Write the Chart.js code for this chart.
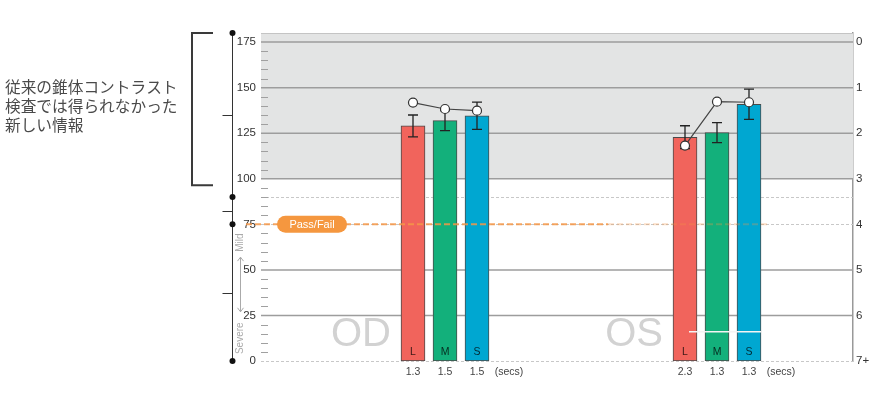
<!DOCTYPE html>
<html>
<head>
<meta charset="utf-8">
<script src="https://cdn.jsdelivr.net/npm/chart.js@4"></script>
<style>
body { margin: 0; background: #fff; }
#wrap { width: 885px; height: 420px; }
</style>
</head>
<body>
<div id="wrap"><canvas id="myChart"></canvas></div>
<script>
// values
const eyes = ['OD', 'OS'];
const cones = ['L', 'M', 'S'];
const odScores = [129.0, 131.9, 134.6];
const osScores = [122.8, 125.3, 140.9];
const odErrors = [6.0, 5.5, 7.5];
const osErrors = [6.3, 5.5, 8.3];
const odPrevious = [141.8, 138.3, 137.4];
const osPrevious = [118.2, 142.3, 142.0];
const odSecs = ['1.3', '1.5', '1.5'];
const osSecs = ['2.3', '1.3', '1.3'];
const leftTicks = [0, 25, 50, 75, 100, 125, 150, 175];
const rightTickLabels = ['7+', '6', '5', '4', '3', '2', '1', '0'];
const passFail = 75;
const sideText = ['従来の錐体コントラスト', '検査では得られなかった', '新しい情報'];

const coneColors = ['#f1645c', '#13b07b', '#00a7d1'];
const FONT = 'Liberation Sans, Arial, sans-serif';

// slot layout on the category axis
const SLOTS = 37;
const groupStart = [9, 26];
const scores = [odScores, osScores];
const errors = [odErrors, osErrors];
const previous = [odPrevious, osPrevious];
const secs = [odSecs, osSecs];

const labels = Array(SLOTS).fill('');
const barData = Array(SLOTS).fill(null);
const barColors = Array(SLOTS).fill('transparent');
const barErr = Array(SLOTS).fill(null);
const barCone = Array(SLOTS).fill('');
const prevLines = [Array(SLOTS).fill(null), Array(SLOTS).fill(null)];

eyes.forEach((eye, g) => {
	cones.forEach((c, k) => {
		const i = groupStart[g] + k * 2;
		labels[i] = secs[g][k];
		barData[i] = scores[g][k];
		barColors[i] = coneColors[k];
		barErr[i] = errors[g][k];
		barCone[i] = c;
		prevLines[g][i] = previous[g][k];
	});
	labels[groupStart[g] + 6] = '(secs)';
});

const decor = {
	id: 'decor',
	beforeDatasetsDraw(chart) {
		const {ctx, chartArea: a, scales: {y}} = chart;
		ctx.save();
		// grey band above 100
		ctx.fillStyle = '#e3e4e4';
		ctx.fillRect(a.left, a.top, a.right - a.left, y.getPixelForValue(100) - a.top);
		ctx.strokeStyle = '#c4c4c4';
		ctx.lineWidth = 1;
		ctx.beginPath(); ctx.moveTo(a.left, a.top + 0.5); ctx.lineTo(a.right, a.top + 0.5); ctx.stroke();

		// solid grid lines
		ctx.strokeStyle = '#9d9d9d';
		ctx.lineWidth = 1.5;
		[25, 50, 100, 125, 150, 175].forEach(v => {
			const py = y.getPixelForValue(v);
			ctx.beginPath(); ctx.moveTo(a.left, py); ctx.lineTo(a.right, py); ctx.stroke();
		});
		// dotted lines
		ctx.strokeStyle = '#c8c8c8';
		ctx.lineWidth = 1;
		ctx.setLineDash([3, 2]);
		[0, 75, 90].forEach(v => {
			const py = Math.round(y.getPixelForValue(v)) + 0.5;
			ctx.beginPath(); ctx.moveTo(a.left, py); ctx.lineTo(a.right, py); ctx.stroke();
		});
		ctx.setLineDash([]);
		// minor ticks
		ctx.strokeStyle = '#a0a0a0';
		for (let v = 5; v < 180; v += 5) {
			if (v % 25 === 0) continue;
			const py = Math.round(y.getPixelForValue(v)) + 0.5;
			ctx.beginPath(); ctx.moveTo(a.left, py); ctx.lineTo(a.left + 7, py); ctx.stroke();
		}

		// OD / OS watermarks
		const meta = chart.getDatasetMeta(0);
		ctx.fillStyle = '#d2d2d2';
		ctx.font = '40px ' + FONT;
		ctx.textAlign = 'right';
		ctx.textBaseline = 'alphabetic';
		eyes.forEach((eye, g) => {
			const bar = meta.data[groupStart[g]];
			ctx.fillText(eye, bar.x - 22, y.getPixelForValue(0) - 15);
		});

		// left side axis with dots
		const ax = 232.5;
		ctx.strokeStyle = '#333';
		ctx.lineWidth = 1;
		ctx.beginPath(); ctx.moveTo(ax, a.top); ctx.lineTo(ax, y.getPixelForValue(0)); ctx.stroke();
		const dots = [180, 90, 75, 0].map(v => y.getPixelForValue(v));
		ctx.fillStyle = '#111';
		dots.forEach(py => { ctx.beginPath(); ctx.arc(ax, py, 3, 0, Math.PI * 2); ctx.fill(); });
		for (let i = 0; i < dots.length - 1; i++) {
			const my = Math.round((dots[i] + dots[i + 1]) / 2) + 0.5;
			ctx.beginPath(); ctx.moveTo(ax - 10, my); ctx.lineTo(ax, my); ctx.stroke();
		}

		// bracket
		ctx.lineWidth = 2;
		ctx.strokeStyle = '#3a3a3a';
		const bTop = a.top, bBot = y.getPixelForValue(96.5);
		ctx.beginPath();
		ctx.moveTo(213, bTop); ctx.lineTo(192, bTop); ctx.lineTo(192, bBot); ctx.lineTo(213, bBot);
		ctx.stroke();

		// side text
		ctx.fillStyle = '#4a4a4a';
		ctx.font = '15.7px "Noto Sans CJK JP"';
		ctx.textAlign = 'left';
		ctx.textBaseline = 'middle';
		sideText.forEach((t, i) => ctx.fillText(t, 5, 87 + i * 19));

		// Mild / Severe
		ctx.fillStyle = '#aaa';
		ctx.font = '10px ' + FONT;
		ctx.textAlign = 'center';
		[['Mild', 65], ['Severe', 12.5]].forEach(([t, v]) => {
			ctx.save();
			ctx.translate(240, y.getPixelForValue(v));
			ctx.rotate(-Math.PI / 2);
			ctx.fillText(t, 0, 0);
			ctx.restore();
		});
		const ay1 = y.getPixelForValue(57), ay2 = y.getPixelForValue(27);
		ctx.strokeStyle = '#aaa';
		ctx.lineWidth = 1;
		ctx.beginPath();
		ctx.moveTo(240.5, ay1); ctx.lineTo(240.5, ay2);
		ctx.moveTo(237.5, ay1 + 4); ctx.lineTo(240.5, ay1); ctx.lineTo(243.5, ay1 + 4);
		ctx.moveTo(237.5, ay2 - 4); ctx.lineTo(240.5, ay2); ctx.lineTo(243.5, ay2 - 4);
		ctx.stroke();
		ctx.restore();
	},
	afterDatasetDraw(chart, args) {
		if (args.index !== 0) return;
		const {ctx, scales: {y}} = chart;
		ctx.save();
		ctx.strokeStyle = '#222';
		ctx.lineWidth = 1.3;
		args.meta.data.forEach((bar, i) => {
			if (barErr[i] == null) return;
			const hi = y.getPixelForValue(barData[i] + barErr[i]);
			const lo = y.getPixelForValue(barData[i] - barErr[i]);
			ctx.beginPath();
			ctx.moveTo(bar.x, hi); ctx.lineTo(bar.x, lo);
			ctx.moveTo(bar.x - 5, hi); ctx.lineTo(bar.x + 5, hi);
			ctx.moveTo(bar.x - 5, lo); ctx.lineTo(bar.x + 5, lo);
			ctx.stroke();
		});
		ctx.restore();
	},
	afterDatasetsDraw(chart) {
		const {ctx, scales: {y}} = chart;
		const meta = chart.getDatasetMeta(0);
		ctx.save();
		// cone letters
		ctx.font = '10.5px ' + FONT;
		ctx.fillStyle = 'rgba(0,0,0,0.75)';
		ctx.textAlign = 'center';
		ctx.textBaseline = 'middle';
		meta.data.forEach((bar, i) => {
			if (barCone[i]) ctx.fillText(barCone[i], bar.x, y.getPixelForValue(0) - 9);
		});

		// white stray line over OS bars
		const osL = meta.data[groupStart[1]], osS = meta.data[groupStart[1] + 4];
		ctx.strokeStyle = '#f4f4f4';
		ctx.lineWidth = 1.5;
		ctx.beginPath();
		ctx.moveTo(osL.x + 4, y.getPixelForValue(16));
		ctx.lineTo(osS.x + 12, y.getPixelForValue(16));
		ctx.stroke();

		// pass / fail
		const py = y.getPixelForValue(passFail);
		ctx.lineWidth = 2;
		ctx.setLineDash([6, 3]);
		ctx.strokeStyle = 'rgba(245,150,70,0.85)';
		ctx.beginPath(); ctx.moveTo(246, py); ctx.lineTo(608, py); ctx.stroke();
		ctx.strokeStyle = 'rgba(245,150,70,0.3)';
		ctx.beginPath(); ctx.moveTo(608, py); ctx.lineTo(osS.x + 19, py); ctx.stroke();
		ctx.setLineDash([]);
		ctx.fillStyle = '#f5973f';
		ctx.beginPath();
		ctx.roundRect(277, py - 8.5, 70, 17, 8.5);
		ctx.fill();
		ctx.fillStyle = '#fff';
		ctx.font = '11px ' + FONT;
		ctx.fillText('Pass/Fail', 312, py + 0.5);
		ctx.restore();
	}
};

const chart = new Chart(document.getElementById('myChart'), {
	type: 'bar',
	data: {
		labels: labels,
		datasets: [{
			data: barData,
			backgroundColor: barColors,
			borderColor: '#4a4a4a',
			borderWidth: 1,
			borderSkipped: false,
			barThickness: 24,
			order: 2
		}, {
			type: 'line',
			data: prevLines[0],
			spanGaps: true,
			borderColor: '#444',
			borderWidth: 1.2,
			pointRadius: 4.5,
			pointBackgroundColor: '#fff',
			pointBorderColor: '#333',
			pointBorderWidth: 1.2,
			order: 1
		}, {
			type: 'line',
			data: prevLines[1],
			spanGaps: true,
			borderColor: '#444',
			borderWidth: 1.2,
			pointRadius: 4.5,
			pointBackgroundColor: '#fff',
			pointBorderColor: '#333',
			pointBorderWidth: 1.2,
			order: 1
		}]
	},
	options: {
		responsive: true,
		maintainAspectRatio: false,
		animation: false,
		layout: { padding: { top: 33 } },
		plugins: { legend: { display: false }, tooltip: { enabled: false } },
		scales: {
			x: {
				grid: { display: false, drawTicks: false },
				border: { display: false },
				ticks: {
					autoSkip: false, maxRotation: 0, padding: 5,
					color: '#444', font: { family: FONT, size: 10.5 }
				},
				afterFit(s) { s.height = 59; }
			},
			y: {
				min: 0, max: 180,
				grid: { display: false, drawTicks: false },
				border: { display: false },
				afterBuildTicks(s) { s.ticks = leftTicks.map(v => ({ value: v })); },
				ticks: { padding: 5, color: '#333', font: { family: FONT, size: 11.5 } },
				afterFit(s) { s.width = 261; }
			},
			y2: {
				position: 'right',
				min: 0, max: 180,
				grid: { display: false, drawTicks: false },
				border: { display: true, color: '#999', width: 1.5 },
				afterBuildTicks(s) { s.ticks = leftTicks.map(v => ({ value: v })); },
				ticks: {
					padding: 3, color: '#333', font: { family: FONT, size: 11.5 },
					callback: (v, i) => rightTickLabels[i]
				},
				afterFit(s) { s.width = 32; }
			}
		}
	},
	plugins: [decor]
});
</script>
</body>
</html>
